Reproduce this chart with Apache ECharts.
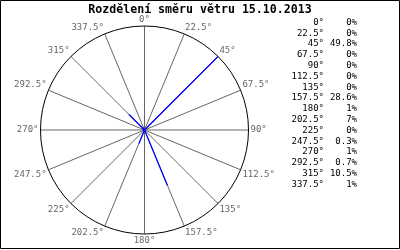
<!DOCTYPE html>
<html>
<head>
<meta charset="utf-8">
<script src="https://cdn.jsdelivr.net/npm/echarts@6/dist/echarts.min.js"></script>
<style>
html,body{margin:0;padding:0;background:#fff;}
#c{width:400px;height:250px;}
</style>
</head>
<body>
<div id="c"></div>
<script>
const titleText = 'Rozdělení směru větru 15.10.2013';
const directions = [0, 22.5, 45, 67.5, 90, 112.5, 135, 157.5, 180, 202.5, 225, 247.5, 270, 292.5, 315, 337.5];
const percents = [0, 0, 49.8, 0, 0, 0, 0, 28.6, 1, 7, 0, 0.3, 1, 0.7, 10.5, 1];

const chart = echarts.init(document.getElementById('c'), null, {renderer: 'canvas'});
const mono = 'DejaVu Sans Mono';

const tableItems = [];
directions.forEach((d, i) => {
  const y = 22.5 + i * 10.8;
  tableItems.push({
    type: 'text', x: 324, y: y,
    style: {text: d + '°', fill: '#000', font: '9px "' + mono + '"', align: 'right', verticalAlign: 'middle'}
  });
  tableItems.push({
    type: 'text', x: 357, y: y,
    style: {text: percents[i] + '%', fill: '#000', font: '9px "' + mono + '"', align: 'right', verticalAlign: 'middle'}
  });
});

const seriesData = directions.map((d, i) => [percents[i], d]);

chart.setOption({
  animation: false,
  backgroundColor: '#fff',
  title: {
    text: titleText, left: 'center', top: 4, padding: 0,
    textStyle: {fontFamily: mono, fontWeight: 'bold', fontSize: 11.6, color: '#000'}
  },
  polar: {center: [144.5, 130], radius: 104},
  angleAxis: {
    type: 'value', min: 0, max: 360, interval: 22.5,
    startAngle: 90, clockwise: true,
    axisLine: {show: true, lineStyle: {color: '#000', width: 1}},
    axisTick: {show: false},
    splitLine: {show: true, lineStyle: {color: '#666', width: 1}},
    axisLabel: {
      margin: 2, color: '#666', fontFamily: mono, fontSize: 9,
      formatter: v => (v >= 360 ? '' : v + '°')
    }
  },
  radiusAxis: {
    type: 'value', min: 0, max: Math.max(...percents), show: false,
    splitLine: {show: false}
  },
  series: [{
    type: 'custom',
    coordinateSystem: 'polar',
    data: seriesData,
    renderItem: (params, api) => {
      const r = api.value(0), a = api.value(1);
      if (!r) return null;
      const p0 = api.coord([0, a]);
      const p1 = api.coord([r, a]);
      return {
        type: 'line',
        shape: {x1: p0[0], y1: p0[1], x2: p1[0], y2: p1[1]},
        style: {stroke: '#0000ff', lineWidth: 1.2}
      };
    }
  }],
  graphic: [
    {type: 'rect', shape: {x: 0.5, y: 0.5, width: 399, height: 248}, style: {fill: null, stroke: '#000', lineWidth: 1}, silent: true},
    ...tableItems
  ]
});
</script>
</body>
</html>
